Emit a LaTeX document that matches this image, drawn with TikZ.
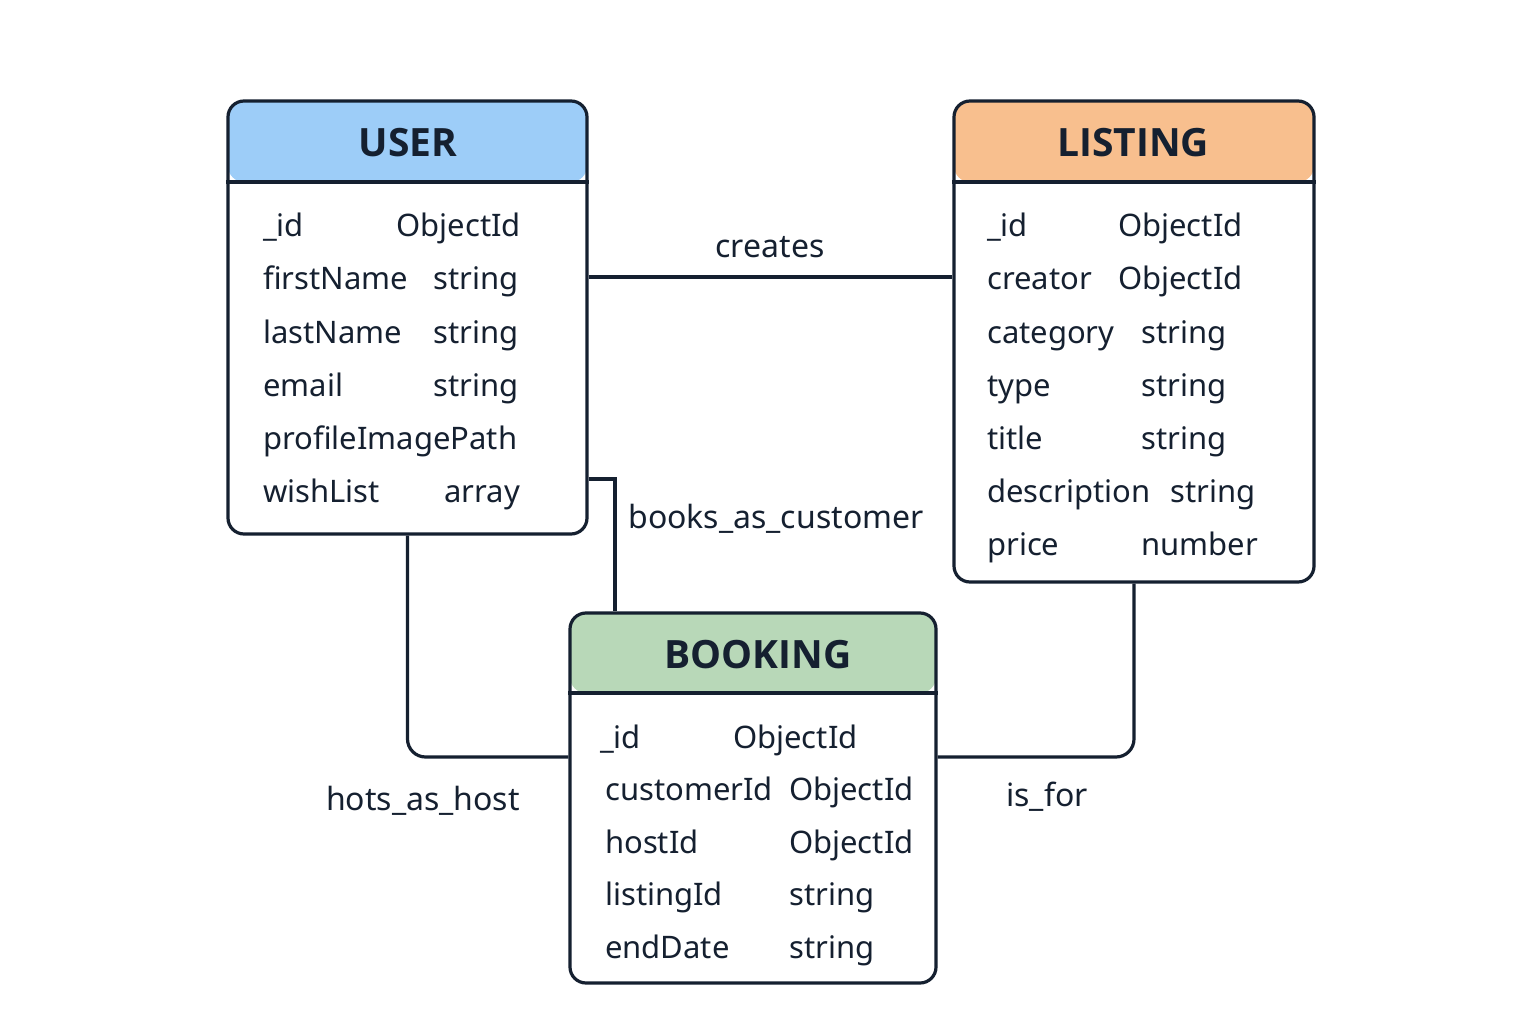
\documentclass[tikz,border=0pt]{standalone}
\usepackage{fontspec}
\setmainfont{Noto Sans}
\newfontfamily\titlefont{Open Sans}
\definecolor{ink}{HTML}{152030}
\definecolor{userhead}{HTML}{9DCDF8}
\definecolor{listhead}{HTML}{F8BF8E}
\definecolor{bookhead}{HTML}{B8D8B8}
\tikzset{
  ln/.style={draw=ink, line width=3.2pt},
  entity/.style={ln, rectangle, rounded corners=16pt, inner sep=0pt, fill=white},
  fieldtxt/.style={text=ink, font=\fontsize{31}{36}\selectfont, inner sep=0pt},
  titletxt/.style={text=ink, font=\titlefont\bfseries\fontsize{39}{46}\selectfont, inner sep=0pt},
  reltxt/.style={text=ink, font=\fontsize{32}{38}\selectfont, inner sep=0pt, anchor=base},
}
\begin{document}
\begin{tikzpicture}[x=1pt,y=-1pt]
\useasboundingbox[fill=white] (0,0) rectangle (1536,1024);
% level coordinates
\coordinate (hu) at (0,182);
\coordinate (hb) at (0,693);
\coordinate (cr) at (0,277);
\coordinate (bc) at (615,479);
\coordinate (hc) at (0,757);

% entities
\node[entity, minimum width=359pt, minimum height=433pt,
  path picture={\fill[userhead] (path picture bounding box.north west) rectangle ([yshift=-81pt]path picture bounding box.north east);}]
  (user) at (407.5,317.5) {};
\node[entity, minimum width=360pt, minimum height=481pt,
  path picture={\fill[listhead] (path picture bounding box.north west) rectangle ([yshift=-81pt]path picture bounding box.north east);}]
  (listing) at (1134,341.5) {};
\node[entity, minimum width=366pt, minimum height=370pt,
  path picture={\fill[bookhead] (path picture bounding box.north west) rectangle ([yshift=-80pt]path picture bounding box.north east);}]
  (booking) at (753,798) {};

\draw[ln] (user.west |- hu) -- (user.east |- hu);
\draw[ln] (listing.west |- hu) -- (listing.east |- hu);
\draw[ln] (booking.west |- hb) -- (booking.east |- hb);

% titles
\node[titletxt] (tuser) at (408,143) {USER};
\node[titletxt] (tlist) at (1133,143) {LISTING};
\node[titletxt] (tbook) at (758,655) {BOOKING};

% USER fields
\node[fieldtxt, anchor=base west] (u1a) at (263,237) {\_id};
\node[fieldtxt, anchor=base east] (u1b) at (521,237) {ObjectId};
\node[fieldtxt, anchor=base west] (u2a) at (263,290) {firstName};
\node[fieldtxt, anchor=base east] (u2b) at (519,290) {string};
\node[fieldtxt, anchor=base west] (u3a) at (263,343) {lastName};
\node[fieldtxt, anchor=base east] (u3b) at (519,343) {string};
\node[fieldtxt, anchor=base west] (u4a) at (263,396) {email};
\node[fieldtxt, anchor=base east] (u4b) at (519,396) {string};
\node[fieldtxt, anchor=base west] (u5a) at (263,449) {profileImagePath};
\node[fieldtxt, anchor=base west] (u6a) at (263,502) {wishList};
\node[fieldtxt, anchor=base east] (u6b) at (520,502) {array};

% LISTING fields
\node[fieldtxt, anchor=base west] (l1a) at (987,237) {\_id};
\node[fieldtxt, anchor=base west] (l1b) at (1118,237) {ObjectId};
\node[fieldtxt, anchor=base west] (l2a) at (987,290) {creator};
\node[fieldtxt, anchor=base west] (l2b) at (1118,290) {ObjectId};
\node[fieldtxt, anchor=base west] (l3a) at (987,343) {category};
\node[fieldtxt, anchor=base west] (l3b) at (1141,343) {string};
\node[fieldtxt, anchor=base west] (l4a) at (987,396) {type};
\node[fieldtxt, anchor=base west] (l4b) at (1141,396) {string};
\node[fieldtxt, anchor=base west] (l5a) at (987,449) {title};
\node[fieldtxt, anchor=base west] (l5b) at (1141,449) {string};
\node[fieldtxt, anchor=base west] (l6a) at (987,502) {description};
\node[fieldtxt, anchor=base west] (l6b) at (1170,502) {string};
\node[fieldtxt, anchor=base west] (l7a) at (987,555) {price};
\node[fieldtxt, anchor=base west] (l7b) at (1141,555) {number};

% BOOKING fields
\node[fieldtxt, anchor=base west] (b1a) at (600,748) {\_id};
\node[fieldtxt, anchor=base west] (b1b) at (733,748) {ObjectId};
\node[fieldtxt, anchor=base west] (b2a) at (605,800) {customerId};
\node[fieldtxt, anchor=base west] (b2b) at (789,800) {ObjectId};
\node[fieldtxt, anchor=base west] (b3a) at (605,853) {hostId};
\node[fieldtxt, anchor=base west] (b3b) at (789,853) {ObjectId};
\node[fieldtxt, anchor=base west] (b4a) at (605,905) {listingId};
\node[fieldtxt, anchor=base west] (b4b) at (789,905) {string};
\node[fieldtxt, anchor=base west] (b5a) at (605,958) {endDate};
\node[fieldtxt, anchor=base west] (b5b) at (789,958) {string};

% connectors
\draw[ln] (user.east |- cr) -- (listing.west |- cr);
\draw[ln] (user.east |- bc) -- (bc) -- (bc |- booking.north);
\draw[ln, rounded corners=18pt] (user.south) -- (user.south |- hc) -- (booking.west |- hc);
\draw[ln, rounded corners=18pt] (booking.east |- hc) -- (listing.south |- hc) -- (listing.south);

% relation labels
\node[reltxt] (rcreates) at (770,258) {creates};
\node[reltxt] (rbooks) at (776,528) {books\_as\_customer};
\node[reltxt] (rhost) at (423,810) {hots\_as\_host};
\node[reltxt] (risfor) at (1047,806) {is\_for};
\end{tikzpicture}
\end{document}
